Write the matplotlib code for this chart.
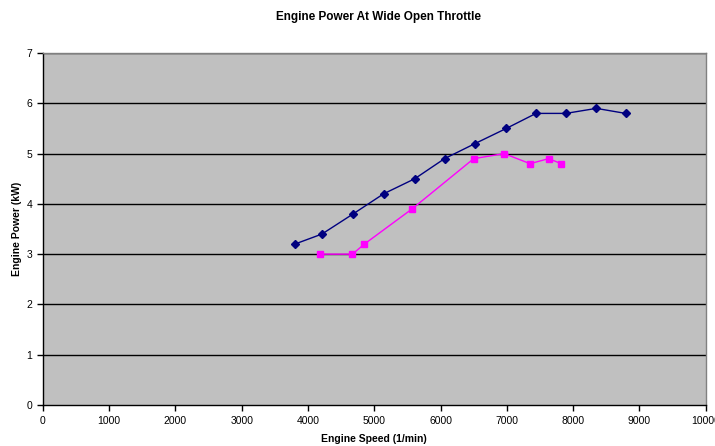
import matplotlib
matplotlib.use("Agg")
import matplotlib.pyplot as plt

plt.rcParams['font.family'] = ['Liberation Sans', 'DejaVu Sans']

speed_a = [3800, 4210, 4680, 5140, 5610, 6060, 6520, 6990, 7440, 7890, 8350, 8790]
power_a = [3.2, 3.4, 3.8, 4.2, 4.5, 4.9, 5.2, 5.5, 5.8, 5.8, 5.9, 5.8]
speed_b = [4180, 4670, 4850, 5570, 6500, 6960, 7350, 7630, 7820]
power_b = [3.0, 3.0, 3.2, 3.9, 4.9, 5.0, 4.8, 4.9, 4.8]
x_ticks = list(range(0, 10001, 1000))
y_ticks = list(range(0, 8))

fig = plt.figure(figsize=(7.15, 4.46), dpi=100)
ax = fig.add_axes([0.060, 0.092, 0.927, 0.789])
ax.set_facecolor('#C0C0C0')

for y in y_ticks[1:]:
    ax.axhline(y, color='black', lw=1.0, zorder=1)

ax.plot(speed_a, power_a, color='#000080', lw=1.0, marker='D', markersize=4,
        markerfacecolor='#000080', markeredgecolor='#000080', zorder=3)
ax.plot(speed_b, power_b, color='#FF00FF', lw=1.0, marker='s', markersize=5,
        markerfacecolor='#FF00FF', markeredgecolor='#FF00FF', zorder=3)

ax.set_xlim(0, 10000)
ax.set_ylim(0, 7)
ax.set_xticks(x_ticks)
ax.set_yticks(y_ticks)
ax.tick_params(axis='both', direction='out', length=4, width=1, labelsize=7.5, color='black')
ax.tick_params(axis='x', pad=4)

for side in ['top', 'right']:
    ax.spines[side].set_color('#808080')
    ax.spines[side].set_linewidth(1.0)
for side in ['left', 'bottom']:
    ax.spines[side].set_color('black')
    ax.spines[side].set_linewidth(1.0)

ax.set_xlabel('Engine Speed (1/min)', fontsize=7.5, fontweight='bold', labelpad=6)
ax.set_ylabel('Engine Power (kW)', fontsize=7.5, fontweight='bold', labelpad=3)
fig.text(0.53, 0.963, 'Engine Power At Wide Open Throttle', ha='center', va='center',
         fontsize=8.5, fontweight='bold')

fig.savefig('out.png', dpi=100)
